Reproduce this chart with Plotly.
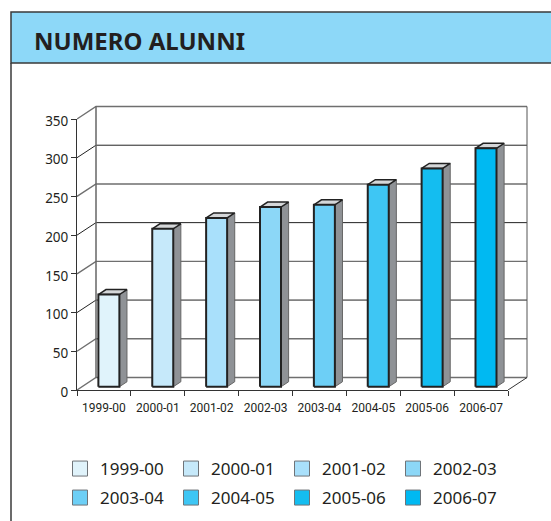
import plotly.graph_objects as go

# ---- data ----
years = ["1999-00", "2000-01", "2001-02", "2002-03", "2003-04", "2004-05", "2005-06", "2006-07"]
alunni = [119, 204, 218, 232, 235, 261, 282, 308]
colors = ["#E0F3FB", "#C6E9FA", "#A9E0FB", "#8CD7F7", "#6DCFF6", "#3EC6F4", "#14BDF0", "#00B9F2"]
y_ticks = [0, 50, 100, 150, 200, 250, 300, 350]
title_text = "NUMERO ALUNNI"

# ---- page geometry (px) ----
W, H = 551, 521
L, R, T, B = 77, 508, 119, 390     # front face of the plot box
PR, PT = 534, 99                   # outer limits of the subplot that holds the oblique marks
px_per_cat = (R - L) / len(years)
px_per_val = (B - T) / 350
DEPTH_X = 19 / px_per_cat      # oblique depth of the plot box, in category units
DEPTH_Y = 12.5 / px_per_val    # ... and in value units
BAR_W = 21 / px_per_cat
D_FRONT, D_BACK = 0.26, 0.66   # bar front/back plane as fraction of depth
X0, X1 = -0.5, len(years) - 0.5

def proj(x, y, d):
    return x + d * DEPTH_X, y + d * DEPTH_Y

def poly(points):
    pts = [proj(*p) for p in points]
    pts.append(pts[0])
    return [p[0] for p in pts], [p[1] for p in pts]

def px(x):
    return (x - L) / (PR - L)

def py(y):
    return (B - y) / (B - PT)

fig = go.Figure()

def add_lines(xs, ys, color, width):
    fig.add_trace(go.Scatter(x=xs, y=ys, xaxis="x2", yaxis="y2", mode="lines",
                             line=dict(color=color, width=width),
                             showlegend=False, hoverinfo="skip"))

# category and value axes sit on their own subplot
fig.add_trace(go.Scatter(x=years, y=alunni, mode="markers", marker=dict(opacity=0),
                         showlegend=False, hoverinfo="skip"))

# back wall grid, side wall and floor
for t in y_ticks:
    p0, p1, p2 = proj(X0, t, 0), proj(X0, t, 1), proj(X1, t, 1)
    dark = t in (100, 200, 300)
    add_lines([p0[0], p1[0], p2[0]], [p0[1], p1[1], p2[1]],
              "#222222" if dark else "#6f6f6f", 1 if dark else 1.4)
a, b = proj(X0, 0, 1), proj(X0, 350, 1)
add_lines([a[0], b[0]], [a[1], b[1]], "#666666", 1.5)
a, b = proj(X1, 0, 1), proj(X1, 350, 1)
add_lines([a[0], b[0]], [a[1], b[1]], "#555555", 1)
a, b = proj(X1, 0, 0), proj(X1, 0, 1)
add_lines([a[0], b[0]], [a[1], b[1]], "#333333", 1)

# bars
for i, (v, c) in enumerate(zip(alunni, colors)):
    xl, xr = i - BAR_W / 2, i + BAR_W / 2
    side = [(xr, 0, D_FRONT), (xr, 0, D_BACK), (xr, v, D_BACK), (xr, v, D_FRONT)]
    top = [(xl, v, D_FRONT), (xl, v, D_BACK), (xr, v, D_BACK), (xr, v, D_FRONT)]
    front = [(xl, 0, D_FRONT), (xr, 0, D_FRONT), (xr, v, D_FRONT), (xl, v, D_FRONT)]
    for pts, fc, lc, lw in ((side, "#8F9296", "#666666", 1), (top, "#D5D7D9", "#222222", 1.5),
                            (front, c, "#222222", 2)):
        xs, ys = poly(pts)
        fig.add_trace(go.Scatter(x=xs, y=ys, xaxis="x2", yaxis="y2", mode="lines", fill="toself",
                                 fillcolor=fc, line=dict(color=lc, width=lw),
                                 showlegend=False, hoverinfo="skip"))

# legend entries: two rows of four
for k, (name, c) in enumerate(zip(years, colors)):
    fig.add_trace(go.Scatter(x=[None], y=[None], xaxis="x2", yaxis="y2", mode="markers", name=name,
                             legend="legend" if k < 4 else "legend2",
                             marker=dict(symbol="square", size=15, color=c,
                                         line=dict(color="#6f7479", width=1))))

frame = [
    dict(type="rect", xref="paper", yref="paper", x0=px(11), x1=px(W + 5), y0=py(63), y1=py(12),
         fillcolor="#8DD8F8", line=dict(color="#3A3A3A", width=1.5), layer="below"),
    dict(type="line", xref="paper", yref="paper", x0=px(11), x1=px(11), y0=py(63), y1=py(H + 5),
         line=dict(color="#3A3A3A", width=1.5), layer="below"),
]

def legend_row(row_center):
    return dict(orientation="h", x=px(60), y=py(row_center), xanchor="left", yanchor="middle",
                entrywidth=66, entrywidthmode="pixels", traceorder="normal",
                font=dict(size=17, color="#231F20"), bgcolor="rgba(0,0,0,0)", borderwidth=0)

fig.update_layout(
    width=W, height=H, autosize=False,
    margin=dict(l=L, r=W - PR, t=PT, b=H - B, pad=0, autoexpand=False),
    paper_bgcolor="white", plot_bgcolor="rgba(0,0,0,0)",
    font=dict(family="Noto Sans", color="#231F20"),
    shapes=frame,
    title=dict(text="<b>" + title_text + "</b>", xref="container", yref="container",
               x=34 / W, y=1 - 50 / H,
               xanchor="left", yanchor="bottom", pad=dict(l=0, r=0, t=0, b=0),
               font=dict(family="Noto Sans", size=24, color="#231F20")),
    xaxis=dict(type="category", categoryorder="array", categoryarray=years, range=[X0, X1],
               domain=[0, (R - L) / (PR - L)], anchor="y", tickson="boundaries",
               ticks="outside", ticklen=5, tickwidth=1, tickcolor="#333333", tickangle=0,
               ticklabelstandoff=7,
               showline=True, linecolor="#333333", linewidth=1, showgrid=False, zeroline=False,
               tickfont=dict(family="Roboto", size=12, color="#231F20")),
    yaxis=dict(range=[0, 350], domain=[0, (B - T) / (B - PT)], anchor="x", tickvals=y_ticks,
               ticks="outside", ticklen=5, tickwidth=1, ticklabelshift=2,
               tickcolor="#333333", showline=True, linecolor="#333333", linewidth=1,
               showgrid=False, zeroline=False, tickfont=dict(size=13.5, color="#231F20")),
    xaxis2=dict(type="linear", range=[X0, X0 + (PR - L) / px_per_cat], domain=[0, 1],
                anchor="y2", visible=False),
    yaxis2=dict(type="linear", range=[0, (B - PT) / px_per_val], domain=[0, 1],
                anchor="x2", visible=False),
    legend=legend_row(469),
    legend2=legend_row(498),
)

fig.write_html("out.html", config={"displayModeBar": False},
               post_script="document.body.style.margin='0';")
